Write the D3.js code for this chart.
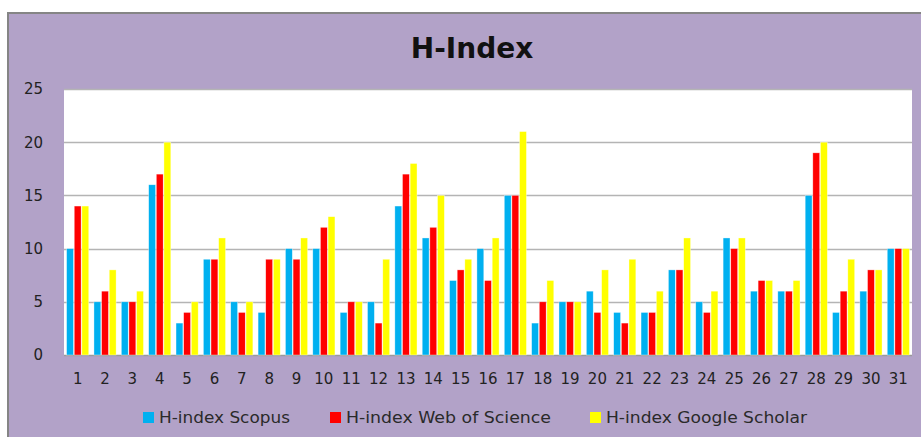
<!DOCTYPE html>
<html><head><meta charset="utf-8">
<script src="https://cdn.jsdelivr.net/npm/d3@7"></script>
<style>body{margin:0;background:#fff}svg{display:block}</style>
</head><body>
<svg id="c" width="921" height="437"></svg>
<script>
const categories = d3.range(1, 32).map(String);
const seriesNames = ["H-index Scopus", "H-index Web of Science", "H-index Google Scholar"];
const scopus  = [10,5,5,16,3,9,5,4,10,10,4,5,14,11,7,10,15,3,5,6,4,4,8,5,11,6,6,15,4,6,10];
const wos     = [14,6,5,17,4,9,4,9,9,12,5,3,17,12,8,7,15,5,5,4,3,4,8,4,10,7,6,19,6,8,10];
const scholar = [14,8,6,20,5,11,5,9,11,13,5,9,18,15,9,11,21,7,5,8,9,6,11,6,11,7,7,20,9,8,10];
const yTicks = [0,5,10,15,20,25];
const colors = ["#00B0F0", "#FF0000", "#FFFF00"];
const series = [scopus, wos, scholar];

const svg = d3.select("#c");
// frame
svg.append("rect").attr("x", 8).attr("y", 13).attr("width", 930).attr("height", 440)
  .attr("fill", "#B2A2C8").attr("stroke", "#858585").attr("stroke-width", 2);

const L = 64, R = 912, T = 89, B = 355;
svg.append("rect").attr("x", L).attr("y", T).attr("width", R - L).attr("height", B - T).attr("fill", "#fff");

const x0 = d3.scaleBand().domain(categories).range([L, R]).paddingInner(0.19).paddingOuter(0.095);
const x1 = d3.scaleBand().domain([0,1,2]).range([0, x0.bandwidth()]).paddingInner(0.1);
const y = d3.scaleLinear().domain([0, 25]).range([B, T]);

// gridlines
svg.append("g").selectAll("line").data(yTicks).join("line")
  .attr("x1", L).attr("x2", R).attr("y1", d => Math.round(y(d)) + 0.5).attr("y2", d => Math.round(y(d)) + 0.5)
  .attr("stroke", d => d === 0 ? "#9a9a9a" : "#b4b4b4").attr("stroke-width", 1.5);

// bars
const g = svg.append("g");
categories.forEach((c, i) => {
  series.forEach((s, k) => {
    g.append("rect")
      .attr("x", x0(c) + x1(k)).attr("width", x1.bandwidth())
      .attr("y", y(s[i])).attr("height", y(0) - y(s[i]))
      .attr("fill", colors[k]).attr("stroke", "#fff").attr("stroke-width", 0.6).attr("stroke-opacity", 0.6);
  });
});

// y axis labels
const yAxis = d3.axisLeft(y).tickValues(yTicks).tickSize(0).tickPadding(0);
const ya = svg.append("g").attr("transform", `translate(43,0)`).call(yAxis);
ya.select(".domain").remove();
ya.selectAll("text").attr("font-family", "DejaVu Sans").attr("font-size", 15).attr("fill", "#222");

// x axis labels
const xAxis = d3.axisBottom(x0).tickSize(0).tickPadding(0);
const xa = svg.append("g").attr("transform", `translate(0,${373})`).call(xAxis);
xa.select(".domain").remove();
xa.selectAll("text").attr("font-family", "DejaVu Sans").attr("font-size", 15).attr("fill", "#222").attr("dy", "0.71em");

// title
svg.append("text").attr("x", 472).attr("y", 58).attr("text-anchor", "middle")
  .attr("font-family", "DejaVu Sans").attr("font-weight", "bold").attr("font-size", 28).attr("fill", "#111")
  .text("H-Index");

// legend
const legX = [143, 330, 590];
const legW = [131, 205, 201];
const leg = svg.append("g");
seriesNames.forEach((n, k) => {
  leg.append("rect").attr("x", legX[k]).attr("y", 412).attr("width", 11).attr("height", 11).attr("fill", colors[k]);
  leg.append("text").attr("x", legX[k] + 16).attr("y", 423)
    .attr("font-family", "DejaVu Sans").attr("font-size", 15).attr("fill", "#2a2a2a")
    .attr("textLength", legW[k]).attr("lengthAdjust", "spacingAndGlyphs").text(n);
});
</script>
</body></html>
